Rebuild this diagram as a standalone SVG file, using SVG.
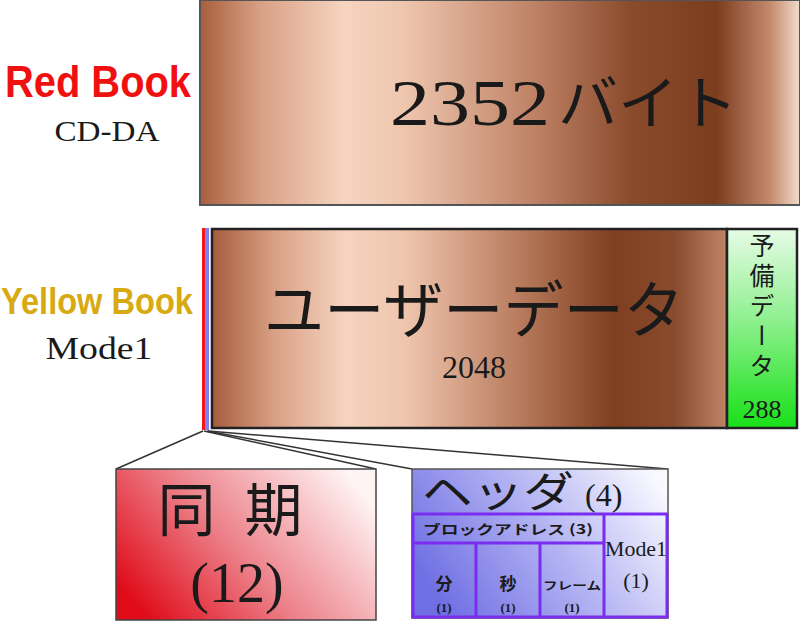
<svg xmlns="http://www.w3.org/2000/svg" width="800" height="624" viewBox="0 0 800 624">
<defs>
<linearGradient id="cu1" x1="0" y1="0" x2="1" y2="0">
<stop offset="0" stop-color="#a85e3e"/>
<stop offset="0.1" stop-color="#d8a084"/>
<stop offset="0.24" stop-color="#f6d4c0"/>
<stop offset="0.34" stop-color="#eec6ae"/>
<stop offset="0.55" stop-color="#c08468"/>
<stop offset="0.72" stop-color="#8a4a2c"/>
<stop offset="0.86" stop-color="#7c3c1e"/>
<stop offset="0.95" stop-color="#c48a6c"/>
<stop offset="1" stop-color="#f2dccc"/>
</linearGradient>
<linearGradient id="cu2" x1="0" y1="0" x2="1" y2="0">
<stop offset="0" stop-color="#a65c3c"/>
<stop offset="0.12" stop-color="#d8a084"/>
<stop offset="0.26" stop-color="#f6d4c0"/>
<stop offset="0.38" stop-color="#eec4ac"/>
<stop offset="0.6" stop-color="#b87a5c"/>
<stop offset="0.78" stop-color="#7e3e20"/>
<stop offset="0.9" stop-color="#8a4c2e"/>
<stop offset="1" stop-color="#c08466"/>
</linearGradient>
<linearGradient id="grn" x1="0" y1="0" x2="0" y2="1">
<stop offset="0" stop-color="#e6fbe6"/>
<stop offset="0.45" stop-color="#90f090"/>
<stop offset="1" stop-color="#18e018"/>
</linearGradient>
<linearGradient id="red" x1="0" y1="0.75" x2="1" y2="0.25">
<stop offset="0" stop-color="#e00c1a"/>
<stop offset="0.45" stop-color="#ec7f88"/>
<stop offset="1" stop-color="#fff4f4"/>
</linearGradient>
<linearGradient id="blu" x1="0" y1="0.6" x2="1" y2="0.2">
<stop offset="0" stop-color="#7070e4"/>
<stop offset="0.55" stop-color="#b8b8f4"/>
<stop offset="1" stop-color="#f8f8ff"/>
</linearGradient>
<style>
.jp{font-family:"Noto Sans CJK JP","Noto Sans",sans-serif;fill:#1a1a1a}
.num{font-family:"Liberation Serif","DejaVu Serif",serif;fill:#1a1a1a}
.bk{font-family:"Liberation Sans",Arial,sans-serif;font-weight:bold;text-anchor:middle}
.pl{fill:none;stroke:#7a2cf0;stroke-width:3}
.cn{stroke:#333;stroke-width:1.5;fill:none}
</style>
</defs>

<g id="redbook-label">
<text class="bk" x="98" y="97" font-size="45" fill="#f01010" textLength="186" lengthAdjust="spacingAndGlyphs">Red Book</text>
<text class="num" x="107" y="141" font-size="30" text-anchor="middle" textLength="105" lengthAdjust="spacingAndGlyphs">CD-DA</text>
</g>

<g id="cdda-sector">
<rect x="200" y="0" width="600" height="205" fill="url(#cu1)" stroke="#555" stroke-width="2"/>
<text class="num" x="390" y="125" font-size="66" textLength="160" lengthAdjust="spacingAndGlyphs">2352</text>
<text class="jp" x="558" y="124" font-size="58" textLength="180" lengthAdjust="spacingAndGlyphs">バイト</text>
</g>

<g id="yellowbook-label">
<text class="bk" x="97" y="314" font-size="37" fill="#d8aa12" textLength="192" lengthAdjust="spacingAndGlyphs">Yellow Book</text>
<text class="num" x="99" y="359" font-size="31" text-anchor="middle" textLength="107" lengthAdjust="spacingAndGlyphs">Mode1</text>
</g>

<g id="sync-strip">
<rect x="202" y="228" width="3" height="202" fill="#f01818"/>
</g>
<g id="header-strip">
<rect x="205" y="228" width="4" height="202" fill="#8080f0"/>
</g>

<g id="user-data">
<rect x="212" y="229" width="515" height="199" fill="url(#cu2)" stroke="#222" stroke-width="2.5"/>
<text class="jp" x="474" y="333" font-size="62" text-anchor="middle" textLength="420" lengthAdjust="spacingAndGlyphs">ユーザーデータ</text>
<text class="num" x="474" y="378" font-size="32" text-anchor="middle">2048</text>
</g>

<g id="spare-data">
<rect x="727" y="229" width="70" height="199" fill="url(#grn)" stroke="#222" stroke-width="2.5"/>
<text class="jp" x="762" y="233" font-size="25" style="writing-mode:vertical-rl" letter-spacing="5">予備データ</text>
<text class="num" x="762" y="418" font-size="26" text-anchor="middle">288</text>
</g>

<g id="connectors">
<line class="cn" x1="203" y1="431" x2="116" y2="469"/>
<line class="cn" x1="204" y1="431" x2="376" y2="469"/>
<line class="cn" x1="207" y1="431" x2="412" y2="469"/>
<line class="cn" x1="208" y1="431" x2="668" y2="469"/>
</g>

<g id="sync">
<rect x="116" y="469" width="260" height="151" fill="url(#red)" stroke="#444" stroke-width="1.5"/>
<text class="jp" x="230" y="531" font-size="58" text-anchor="middle" textLength="145" lengthAdjust="spacing">同 期</text>
<text class="num" x="237" y="602" font-size="56" text-anchor="middle">(12)</text>
</g>

<g id="header">
<rect x="412" y="469" width="256" height="149" fill="url(#blu)" stroke="#555" stroke-width="1.5"/>
<text class="jp" x="422" y="507" font-size="42" textLength="152" lengthAdjust="spacingAndGlyphs">ヘッダ</text>
<text class="num" x="585" y="506" font-size="32">(4)</text>
<path class="pl" d="M412 514H668M412 543H604M604 514V617M476 543V617M540 543V617M413 514V617H667V514"/>
<text class="jp" x="508" y="534" font-size="13" font-weight="bold" text-anchor="middle" textLength="170" lengthAdjust="spacingAndGlyphs">ブロックアドレス (3)</text>
<text class="jp" x="444" y="590" font-size="17" font-weight="bold" text-anchor="middle">分</text>
<text class="num" x="444" y="612" font-size="13" font-weight="bold" text-anchor="middle">(1)</text>
<text class="jp" x="508" y="590" font-size="17" font-weight="bold" text-anchor="middle">秒</text>
<text class="num" x="508" y="612" font-size="13" font-weight="bold" text-anchor="middle">(1)</text>
<text class="jp" x="572" y="590" font-size="11" font-weight="bold" text-anchor="middle" textLength="58" lengthAdjust="spacingAndGlyphs">フレーム</text>
<text class="num" x="572" y="612" font-size="13" font-weight="bold" text-anchor="middle">(1)</text>
<text class="num" x="636" y="556" font-size="21" text-anchor="middle" textLength="62" lengthAdjust="spacingAndGlyphs">Mode1</text>
<text class="num" x="636" y="588" font-size="22" text-anchor="middle">(1)</text>
</g>
</svg>
